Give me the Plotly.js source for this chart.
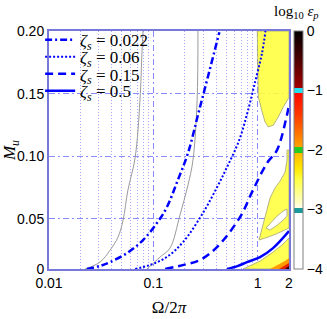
<!DOCTYPE html>
<html>
<head>
<meta charset="utf-8">
<script src="https://cdn.plot.ly/plotly-3.0.1.min.js"></script>
<style>html,body{margin:0;padding:0;background:#fff;}#chart{width:327px;height:319px;}</style>
</head>
<body>
<div id="chart"></div>
<script>
// ---- curve data (Omega/2pi, M_u) ----
var zeta022_x = [0.0231, 0.0308, 0.0385, 0.056, 0.0797, 0.1084, 0.135, 0.17, 0.215, 0.27, 0.34, 0.43];
var zeta022_y = [0.010, 0.0124, 0.0155, 0.0227, 0.0331, 0.0467, 0.0594, 0.080, 0.1025, 0.134, 0.166, 0.199];

var zeta06_x = [0.067, 0.093, 0.135, 0.193, 0.299, 0.408, 0.509, 0.66, 0.80, 0.95, 1.1, 1.19];
var zeta06_y = [0.010, 0.0132, 0.0196, 0.0315, 0.0547, 0.0752, 0.0913, 0.112, 0.135, 0.160, 0.182, 0.200];

var zeta15_x = [0.13, 0.20, 0.28, 0.408, 0.678, 0.903, 1.23, 1.535, 1.91, 2.0];
var zeta15_y = [0.010, 0.0135, 0.0171, 0.0275, 0.0514, 0.073, 0.0945, 0.1049, 0.1328, 0.1407];

var zeta5_x = [0.509, 0.65, 0.791, 1.055, 1.406, 2.0];
var zeta5_y = [0.010, 0.0125, 0.0155, 0.0195, 0.0267, 0.0403];

var gray1_x = [0.0221, 0.0308, 0.0385, 0.0459, 0.0513, 0.0571, 0.0668, 0.0745, 0.078, 0.0797];
var gray1_y = [0.010, 0.0155, 0.025, 0.0355, 0.049, 0.073, 0.0984, 0.1447, 0.1846, 0.200];

var gray2_x = [0.087, 0.116, 0.1445, 0.18, 0.215, 0.24, 0.263, 0.268];
var gray2_y = [0.010, 0.0195, 0.0267, 0.053, 0.077, 0.0969, 0.1447, 0.200];

// ---- log10 eps_p filled-contour regions (outlines) ----
// upper band (about -2.5)
var regU_x = [0.993, 2.0, 2.0, 1.97, 1.764, 1.58, 1.414, 1.266, 1.178, 1.095, 1.016, 0.993];
var regU_y = [0.200, 0.200, 0.147, 0.1461, 0.1394, 0.1314, 0.1248, 0.1234, 0.1274, 0.1368, 0.1474, 0.200];
// lower wedge (about -2.5)
var regL_x = [1.031, 1.102, 1.204, 1.315, 1.468, 1.640, 1.831, 1.914, 1.914, 2.0, 2.0, 1.752, 1.501, 1.258, 1.102, 1.031];
var regL_y = [0.0331, 0.0427, 0.0554, 0.0666, 0.0746, 0.0801, 0.0873, 0.0969, 0.1049, 0.1049, 0.0427, 0.0403, 0.0379, 0.0355, 0.0339, 0.0331];
// hole inside the wedge (below -3)
var regH_x = [1.204, 1.344, 1.535, 1.752, 1.914, 1.914, 1.714, 1.501, 1.315, 1.204];
var regH_y = [0.0427, 0.0474, 0.0522, 0.0562, 0.0578, 0.0522, 0.0482, 0.0443, 0.0411, 0.0427];
// band under the zeta=0.5 curve (about -2.5)
var regB_x = [0.7244, 0.846, 1.054, 1.405, 1.752, 2.0, 2.0, 0.7244];
var regB_y = [0.0100, 0.0124, 0.0163, 0.0235, 0.0299, 0.0347, 0.0100, 0.0100];
// corner bands: about -1.8, -1.2, -0.3
var regO_x = [1.315, 1.569, 1.831, 2.0, 2.0, 1.315];
var regO_y = [0.0100, 0.0132, 0.0163, 0.0187, 0.0100, 0.0100];
var regR_x = [1.604, 1.791, 2.0, 2.0, 1.604];
var regR_y = [0.0100, 0.0124, 0.0148, 0.0100, 0.0100];
var regD_x = [1.831, 2.0, 2.0, 1.831];
var regD_y = [0.0100, 0.0124, 0.0100, 0.0100];

// ---- labels / ticks ----
var legendNames = ['<i>ζ<sub>s</sub></i> = 0.022', '<i>ζ<sub>s</sub></i> = 0.06', '<i>ζ<sub>s</sub></i> = 0.15', '<i>ζ<sub>s</sub></i> = 0.5'];
var xTickVals = [0.01, 0.1, 1, 2];
var xTickText = ['0.01', '0.1', '1', '2'];
var xMinorVals = [0.02, 0.03, 0.04, 0.05, 0.06, 0.07, 0.08, 0.09, 0.2, 0.3, 0.4, 0.5, 0.6, 0.7, 0.8, 0.9];
var yTickVals = [0.01, 0.05, 0.1, 0.15, 0.2];
var yTickText = ['0', '0.05', '0.10', '0.15', '0.20'];
var cbRange = [-4, 0];
var cbTickVals = [0, -1, -2, -3, -4];
var cbTickText = ['0', '\u22121', '\u22122', '\u22123', '\u22124'];

var barScale = [
 [0, '#ffffff'], [0.234, '#ffffff'], [0.2345, '#1a9a9a'], [0.2575, '#1a9a9a'], [0.258, '#ffffe6'],
 [0.3, '#ffffa8'], [0.375, '#ffff44'], [0.425, '#ffe600'], [0.4885, '#ffb800'], [0.489, '#22cc22'],
 [0.5115, '#22cc22'], [0.512, '#ffa400'], [0.575, '#ff7000'], [0.65, '#ff3800'], [0.7395, '#ff0800'],
 [0.74, '#22e0f0'], [0.762, '#22e0f0'], [0.7625, '#a00000'], [0.875, '#500000'], [1, '#000000']
];

var serif = 'Liberation Serif, Times New Roman, serif';
var sans = 'Liberation Sans, Arial, sans-serif';
var edge = '#a3a378';
var yellow = 'rgba(255,255,60,0.88)';

function region(xs, ys, fillc, linec, lw) {
  return {type: 'scatter', mode: 'lines', x: xs, y: ys, fill: 'toself', fillcolor: fillc,
          line: {color: linec, width: lw}, showlegend: false, hoverinfo: 'skip'};
}

var traces = [
 region(regU_x, regU_y, yellow, edge, 0.8),
 region(regL_x, regL_y, yellow, edge, 0.8),
 region(regH_x, regH_y, '#ffffff', edge, 0.8),
 region(regB_x, regB_y, yellow, edge, 0.8),
 region(regO_x, regO_y, '#ff9a00', 'rgba(0,0,0,0)', 0),
 region(regR_x, regR_y, '#e82000', 'rgba(0,0,0,0)', 0),
 region(regD_x, regD_y, '#300000', 'rgba(0,0,0,0)', 0),
 {type: 'scatter', mode: 'lines', x: gray1_x, y: gray1_y, line: {color: '#9a9a9a', width: 1, shape: 'spline'}, showlegend: false, hoverinfo: 'skip'},
 {type: 'scatter', mode: 'lines', x: gray2_x, y: gray2_y, line: {color: '#9a9a9a', width: 1, shape: 'spline'}, showlegend: false, hoverinfo: 'skip'},
 {type: 'scatter', mode: 'lines', name: legendNames[0], x: zeta022_x, y: zeta022_y, legend: 'legend',
  line: {color: '#0000ff', width: 2.5, dash: '7px,3px,2px,3px', shape: 'spline'}},
 {type: 'scatter', mode: 'lines', name: legendNames[1], x: zeta06_x, y: zeta06_y, legend: 'legend2',
  line: {color: '#0000ff', width: 2, dash: '2px,2px', shape: 'spline'}},
 {type: 'scatter', mode: 'lines', name: legendNames[2], x: zeta15_x, y: zeta15_y, legend: 'legend3',
  line: {color: '#0000ff', width: 2.5, dash: '8px,5px', shape: 'spline'}},
 {type: 'scatter', mode: 'lines', name: legendNames[3], x: zeta5_x, y: zeta5_y, legend: 'legend4',
  line: {color: '#0000ff', width: 2.5, shape: 'spline'}},
 {type: 'scatter', mode: 'markers', x: [null, null], y: [null, null], showlegend: false, hoverinfo: 'skip',
  marker: {color: cbRange, cmin: cbRange[0], cmax: cbRange[1], colorscale: barScale, showscale: true, size: 0,
   colorbar: {x: 1.0208, xanchor: 'left', xref: 'paper', thickness: 9, thicknessmode: 'pixels', len: 1, lenmode: 'fraction',
    y: 0.5, yanchor: 'middle', ypad: 0, xpad: 0, outlinewidth: 1, outlinecolor: '#808080',
    tickmode: 'array', tickvals: cbTickVals, ticktext: cbTickText, ticks: '', tickfont: {family: sans, size: 14, color: '#000'}}}}
];

function leg(yp) {
  return {x: -0.037, xanchor: 'left', y: yp, yanchor: 'middle', bgcolor: 'rgba(0,0,0,0)', borderwidth: 0,
          font: {family: serif, size: 17, color: '#000'}};
}

var gridDash = '6px,3px,2px,3px';
var layout = {
  width: 327, height: 319,
  margin: {l: 49, r: 38, t: 31, b: 50, autoexpand: false},
  paper_bgcolor: '#ffffff', plot_bgcolor: '#ffffff',
  font: {family: sans, size: 14, color: '#000'},
  xaxis: {type: 'log', range: [-2, Math.log10(2)], tickmode: 'array', tickvals: xTickVals, ticktext: xTickText,
    showgrid: true, gridcolor: '#8a8aff', griddash: gridDash, gridwidth: 1,
    minor: {tickmode: 'array', tickvals: xMinorVals, showgrid: true, gridcolor: '#a8a8ff', griddash: '1px,2px', gridwidth: 1, ticks: ''},
    showline: true, linecolor: '#7878d8', linewidth: 2, mirror: true, ticks: '', zeroline: false,
    tickfont: {family: sans, size: 14, color: '#000'},
    title: {text: 'Ω/2<i>π</i>', font: {family: serif, size: 17, color: '#000'}, standoff: 11}},
  yaxis: {range: [0.01, 0.2], tickmode: 'array', tickvals: yTickVals, ticktext: yTickText,
    showgrid: true, gridcolor: '#8a8aff', griddash: gridDash, gridwidth: 1,
    showline: true, linecolor: '#7878d8', linewidth: 2, mirror: true, ticks: '', zeroline: false,
    tickfont: {family: sans, size: 14, color: '#000'},
    title: {text: '<i>M<sub>u</sub></i>', font: {family: serif, size: 17, color: '#000'}, standoff: 3}},
  showlegend: true,
  legend: leg(0.961), legend2: leg(0.890), legend3: leg(0.818), legend4: leg(0.747),
  annotations: [
    {text: 'log<sub>10</sub> <i>ε<sub>p</sub></i>', xref: 'paper', yref: 'paper', x: 1.03, y: 1.078,
     xanchor: 'center', yanchor: 'middle', showarrow: false, font: {family: serif, size: 15, color: '#000'}}
  ]
};

Plotly.newPlot('chart', traces, layout, {displayModeBar: false, staticPlot: true});
</script>
</body>
</html>
